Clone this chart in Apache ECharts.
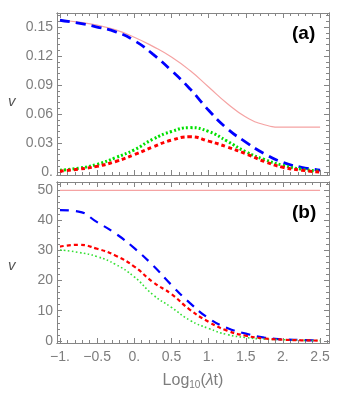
<!DOCTYPE html>
<html>
<head>
<meta charset="utf-8">
<script src="https://cdn.jsdelivr.net/npm/echarts@6/dist/echarts.min.js"></script>
<style>
  html, body { margin: 0; padding: 0; background: #fff; }
  #main { width: 339px; height: 395px; }
</style>
</head>
<body>
<div id="main"></div>
<script>
// x grid, Log10(lambda t)
var xVals = [-1, -0.75, -0.5, -0.25, 0, 0.25, 0.5, 0.75, 1, 1.25, 1.5, 1.75, 2, 2.25, 2.5];

// panel (a)
var aPink  = [0.157, 0.155, 0.152, 0.147, 0.1395, 0.130, 0.119, 0.105, 0.088, 0.071, 0.057, 0.049, 0.0465, 0.0465, 0.0465];
var aBlue  = [0.157, 0.154, 0.150, 0.145, 0.136, 0.122, 0.105, 0.086, 0.064, 0.045, 0.031, 0.019, 0.010, 0.005, 0.002];
var aGreen = [0.002, 0.004, 0.008, 0.015, 0.023, 0.034, 0.042, 0.046, 0.042, 0.032, 0.021, 0.013, 0.007, 0.003, 0.001];
var aRed   = [0.001, 0.003, 0.006, 0.011, 0.018, 0.026, 0.033, 0.0365, 0.032, 0.026, 0.019, 0.011, 0.005, 0.002, 0.0];

// panel (b)
var bPink  = [49.8, 49.8, 49.8, 49.8, 49.8, 49.8, 49.8, 49.8, 49.8, 49.8, 49.8, 49.8, 49.8, 49.8, 49.8];
var bBlue  = [43.3, 42.8, 39.3, 35.5, 30.7, 25.0, 18.5, 12.5, 7.5, 4.3, 2.4, 1.1, 0.5, 0.3, 0.1];
var bRed   = [31.2, 31.8, 30.5, 28.2, 24.6, 19.5, 15.5, 10.3, 6.3, 3.4, 1.7, 0.8, 0.4, 0.2, 0.1];
var bGreen = [30.1, 29.3, 27.9, 25.3, 21.2, 15.3, 11.1, 6.8, 4.1, 2.1, 1.1, 0.6, 0.4, 0.2, 0.1];

// ticks
var xMajor = [-1, -0.5, 0, 0.5, 1, 1.5, 2, 2.5];
var xLabels = ['\u22121.', '\u22120.5', '0.', '0.5', '1.', '1.5', '2.', '2.5'];
var aMajor = [0, 0.03, 0.06, 0.09, 0.12, 0.15];
var aLabels = ['0.', '0.03', '0.06', '0.09', '0.12', '0.15'];
var bMajor = [0, 10, 20, 30, 40, 50];
var bLabels = ['0', '10', '20', '30', '40', '50'];

function steps(from, to, step) {
    var out = [];
    for (var v = from; v <= to + 1e-9; v += step) out.push(Math.round(v * 1000) / 1000);
    return out;
}
var xMinor = steps(-1, 2.6, 0.1);
var aMinor = steps(0, 0.162, 0.006);
var bMinor = steps(0, 52, 2);

var frameCol = '#858585';
var labelCol = '#7d7d7d';
var font = 'Liberation Sans';

function pairs(ys) {
    return xVals.map(function (x, i) { return [x, ys[i]]; });
}

var xAxes = [], yAxes = [];

function addAxis(list, g, pos, min, max, ticks, len, labels) {
    var ax = {
        type: 'value', gridIndex: g, position: pos, min: min, max: max,
        splitLine: {show: false},
        axisLine: {show: true, onZero: false, lineStyle: {color: frameCol, width: 1}},
        axisTick: {show: true, inside: true, length: len, customValues: ticks,
                   lineStyle: {color: frameCol, width: 1}},
        axisLabel: {show: false}
    };
    if (labels) {
        ax.axisLabel = {
            show: true, customValues: ticks, color: labelCol, fontSize: 14, fontFamily: font,
            margin: pos === 'left' ? 4 : 7,
            formatter: function (v) {
                var i = ticks.indexOf(Math.round(v * 1000) / 1000);
                return i >= 0 ? labels[i] : '';
            }
        };
    }
    list.push(ax);
    return list.length - 1;
}

var xMin = -1.04, xMax = 2.62;
var ranges = [[-0.003, 0.1645, aMajor, aMinor, aLabels], [-0.7, 52.6, bMajor, bMinor, bLabels]];
var axisIdx = [];
for (var g = 0; g < 2; g++) {
    var xi = addAxis(xAxes, g, 'bottom', xMin, xMax, xMajor, 5, g === 1 ? xLabels : null);
    addAxis(xAxes, g, 'bottom', xMin, xMax, xMinor, 3, null);
    addAxis(xAxes, g, 'top', xMin, xMax, xMajor, 5, null);
    addAxis(xAxes, g, 'top', xMin, xMax, xMinor, 3, null);
    var r = ranges[g];
    var yi = addAxis(yAxes, g, 'left', r[0], r[1], r[2], 5, r[4]);
    addAxis(yAxes, g, 'left', r[0], r[1], r[3], 3, null);
    addAxis(yAxes, g, 'right', r[0], r[1], r[2], 5, null);
    addAxis(yAxes, g, 'right', r[0], r[1], r[3], 3, null);
    axisIdx.push([xi, yi]);
}

xAxes[axisIdx[1][0]].name = '{a|Log}{s|10}{a|(}{i|\u03bb}{a|t)}';
xAxes[axisIdx[1][0]].nameLocation = 'middle';
xAxes[axisIdx[1][0]].nameGap = 29;
xAxes[axisIdx[1][0]].nameTextStyle = {
    rich: {
        a: {fontSize: 16, color: labelCol, fontFamily: font},
        i: {fontSize: 16, color: labelCol, fontFamily: font, fontStyle: 'italic'},
        s: {fontSize: 10, color: labelCol, fontFamily: font, padding: [8, 0, 0, 0]}
    }
};

function line(g, name, ys, color, width, dash, z) {
    return {
        name: name, type: 'line', xAxisIndex: axisIdx[g][0], yAxisIndex: axisIdx[g][1],
        data: pairs(ys), smooth: 0.5, showSymbol: false, silent: true, z: z,
        lineStyle: {color: color, width: width, type: dash, cap: 'butt'}
    };
}

var chart = echarts.init(document.getElementById('main'));
chart.setOption({
    animation: false,
    backgroundColor: '#fff',
    grid: [
        {left: 57, top: 13, width: 272, height: 162},
        {left: 57, top: 182, width: 272, height: 161}
    ],
    xAxis: xAxes,
    yAxis: yAxes,
    graphic: [
        {type: 'text', left: 8, top: 94, style: {text: 'v', fill: '#555', font: 'italic 15px Liberation Sans'}},
        {type: 'text', left: 8, top: 258, style: {text: 'v', fill: '#555', font: 'italic 15px Liberation Sans'}},
        {type: 'text', left: 292, top: 24, style: {text: '(a)', fill: '#000', font: 'bold 19px Liberation Sans'}},
        {type: 'text', left: 292, top: 203, style: {text: '(b)', fill: '#000', font: 'bold 19px Liberation Sans'}}
    ],
    series: [
        line(0, 'pink', aPink, '#f5a3a3', 1.2, 'solid', 2),
        line(0, 'blue', aBlue, '#0000ff', 2.8, [10, 6], 3),
        line(0, 'green', aGreen, '#00e000', 3, [2, 2.2], 4),
        line(0, 'red', aRed, '#ff0000', 3, [4, 3], 5),
        line(1, 'pink', bPink, '#f5a3a3', 1.2, 'solid', 2),
        line(1, 'blue', bBlue, '#0000ff', 2.2, [9, 7], 3),
        line(1, 'red', bRed, '#ff0000', 2.2, [4, 3], 5),
        line(1, 'green', bGreen, '#33e033', 1.6, [1.6, 2.4], 4)
    ]
});
</script>
</body>
</html>
